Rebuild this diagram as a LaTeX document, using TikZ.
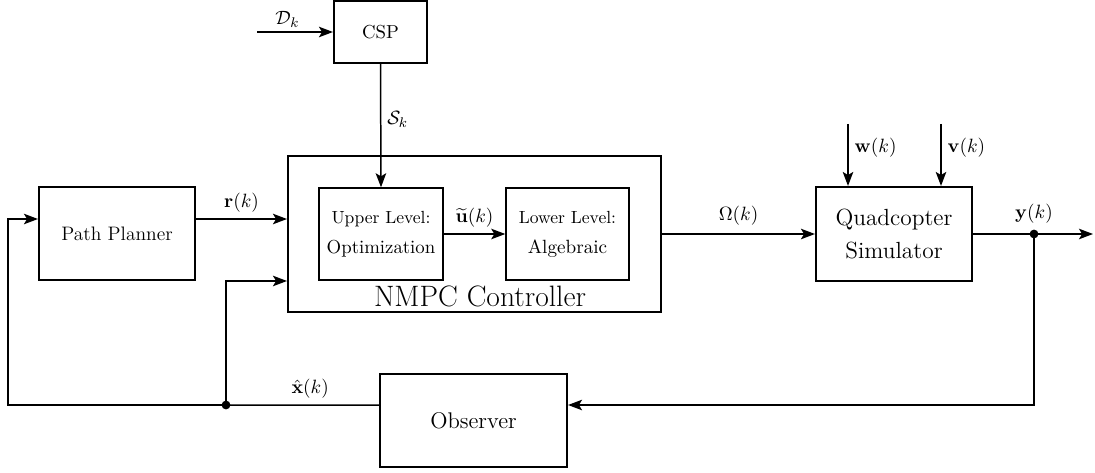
\documentclass[tikz,border=0pt]{standalone}
\usepackage{amsmath}
\usepackage{tikz}
\usetikzlibrary{arrows.meta, positioning}

\begin{document}
\begin{tikzpicture}[
    x=0.02cm, y=-0.02cm,
    font=\fontsize{11}{13}\selectfont,
    block/.style={rectangle, draw, line width=1.2pt, align=center, inner sep=0pt},
    wire/.style={line width=0.85pt},
    arr/.style={wire, -{Stealth[length=8pt, width=6pt, inset=1.8pt]}},
    dot/.style={circle, fill, inner sep=0pt, minimum size=5pt}
]
\useasboundingbox (0,0) rectangle (1095,473);

% Reference generator and planner
\node[block, minimum width=1.86cm, minimum height=1.24cm, font=\fontsize{10.7}{13}\selectfont] (csp) at (380.5,32) {CSP};
\node[block, minimum width=3.12cm, minimum height=1.86cm, font=\fontsize{11.1}{13}\selectfont] (planner) at (117,233.5) {Path Planner};

% NMPC Controller with its two levels
\node[block, minimum width=7.46cm, minimum height=3.12cm] (nmpc) at (474.5,234) {};
\node[font=\fontsize{16.8}{20}\selectfont] (nmpclabel) at (480,296) {NMPC Controller};
\node[block, minimum width=2.48cm, minimum height=1.84cm, line width=0.85pt, font=\fontsize{10}{12}\selectfont] (upper) at (381,234)
    {Upper Level:\\[5pt] {\fontsize{10.7}{13}\selectfont Optimization}};
\node[block, minimum width=2.46cm, minimum height=1.84cm, line width=0.85pt, font=\fontsize{10}{12}\selectfont] (lower) at (567.5,234)
    {Lower Level:\\[5pt] {\fontsize{10.9}{13}\selectfont Algebraic}};

% Plant and observer
\node[block, minimum width=3.12cm, minimum height=1.88cm, font=\fontsize{13.3}{19}\selectfont] (quad) at (894,234) {Quadcopter\\ Simulator};
\node[block, minimum width=3.74cm, minimum height=1.86cm, font=\fontsize{12.9}{15}\selectfont] (obs) at (473.5,420.5) {Observer};

% Free ends and branch points
\coordinate (din) at (257,32);
\coordinate (wtop) at (848,124);
\coordinate (vtop) at (941,124);
\node[dot] (ydot) at (1034,234) {};
\coordinate (yout) at (1093,234);
\node[dot] (xdot) at (226,405) {};
\coordinate (fb) at (8,405);

% Connections
\draw[arr] (din) -- node[above=-1pt, pos=0.4] {$\mathcal{D}_k$} (csp.west);
\draw[arr] (csp.south) -- node[right, pos=0.45] {$\mathcal{S}_k$} (upper.north);
\draw[arr] ([yshift=0.29cm]planner.east) -- node[above] {$\mathbf{r}(k)$} ([yshift=0.29cm]planner.east -| nmpc.west);
\draw[arr] (upper.east) -- node[above] {$\widetilde{\mathbf{u}}(k)$} (lower.west);
\draw[arr] (nmpc.east) -- node[above=1pt] {$\Omega(k)$} (quad.west);
\draw[arr] (wtop) -- node[right, pos=0.38] {$\mathbf{w}(k)$} (wtop |- quad.north);
\draw[arr] (vtop) -- node[right, pos=0.38] {$\mathbf{v}(k)$} (vtop |- quad.north);
\draw[arr] (quad.east) -- (yout);
\node[above=0pt of ydot] {$\mathbf{y}(k)$};
\draw[arr] (ydot.center) |- ([yshift=0.31cm]obs.east);
\draw[wire] ([yshift=0.31cm]obs.west) -- node[above, pos=0.45] {$\hat{\mathbf{x}}(k)$} (xdot.center);
\draw[arr] (xdot.center) -- (fb) |- ([yshift=0.29cm]planner.west);
\draw[arr] (xdot.center) |- ([yshift=-0.94cm]nmpc.west);

\end{tikzpicture}
\end{document}
